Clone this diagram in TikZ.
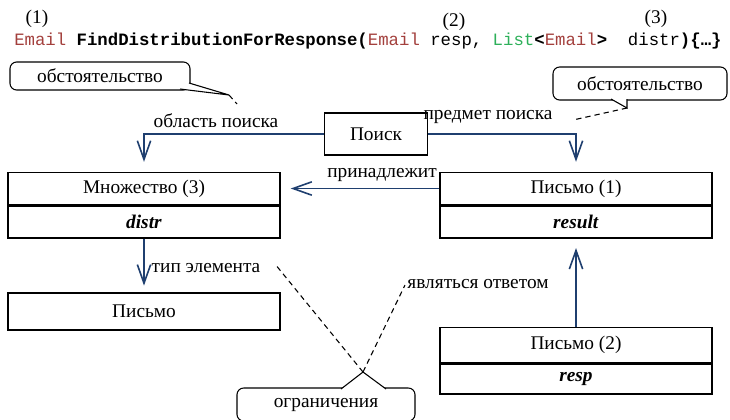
\documentclass[tikz,border=0pt]{standalone}
\usepackage{fontspec}
\setmainfont{Liberation Serif}
\setmonofont{Liberation Mono}
\usetikzlibrary{positioning,arrows.meta}
\definecolor{kwred}{HTML}{A3403D}
\definecolor{typegreen}{HTML}{2EB05A}
\definecolor{flowblue}{HTML}{1F3F6F}
\newcommand{\px}{0.75pt}

\begin{document}
\begin{tikzpicture}[x=0.75pt, y=-0.75pt,
   font=\fontsize{14.5pt}{16pt}\selectfont,
   box/.style={draw, line width=1.1pt, fill=white, inner sep=0pt},
   cell/.style={box, minimum width=272*\px, minimum height=32*\px},
   flow/.style={draw=flowblue, line width=1.2pt, -{Straight Barb[length=14pt, width=10pt]}},
   note/.style={draw, line width=0.8pt, fill=white, rounded corners=5pt},
   hint/.style={line width=0.8pt, dash pattern=on 4pt off 3pt},
   num/.style={inner sep=0pt}]
   \useasboundingbox (0,0) rectangle (730,419);

   % method signature
   \node[anchor=base west, inner sep=0pt] (sig) at (14,45) {\ttfamily\fontsize{13pt}{15pt}\selectfont
      \textcolor{kwred}{Email} \textbf{FindDistributionForResponse(}\textcolor{kwred}{Email} resp,
      \textcolor{typegreen}{List}\textbf{<}\textcolor{kwred}{Email}\textbf{>}\ \ distr\textbf{)\{…\}}};
   \node[num] (n1) at (37,19) {(1)};
   \node[num] (n2) at (454,22) {(2)};
   \node[num] (n3) at (656,19) {(3)};

   % frames
   \node[box, minimum width=103*\px, minimum height=42*\px] (search) at (376,134) {Поиск};
   \node[cell] (set) at (144,188.5) {Множество (3)};
   \node[cell, below=0pt of set] (setvar) {\textbf{\textit{distr}}};
   \node[cell] (res) at (576,188.5) {Письмо (1)};
   \node[cell, below=0pt of res] (resvar) {\textbf{\textit{result}}};
   \node[cell, minimum height=37*\px] (mail) at (144,311.5) {Письмо};
   \node[cell, minimum height=35*\px] (resp) at (576,345) {Письмо (2)};
   \node[cell, below=0pt of resp, minimum height=30*\px] (respvar) {\textbf{\textit{resp}}};

   % relations
   \draw[flow, shorten >=7.5pt] (search.west) -| (set.north);
   \draw[flow, shorten >=7.5pt] (search.east) -| (res.north);
   \draw[flow, shorten >=7.5pt] (res.west) -- (set.east);
   \draw[flow, shorten >=5pt] (setvar.south) -- (mail.north);
   \draw[flow, shorten >=7pt] (resp.north) -- (resvar.south);

   \node (lscope) at (216,121) {область поиска};
   \node (lsubj) at (488,117) {предмет поиска};
   \node (lbelong) at (382,175) {принадлежит};
   \node (ltype) at (206,268) {тип элемента};
   \node (lanswer) at (478,284) {являться ответом};

   % callouts
   \node[note, minimum width=180*\px, minimum height=28*\px] (note1) at (100,76) {обстоятельство};
   \coordinate (tip1) at (229,95);
   \fill[white] (180,89) -- (tip1) -- (189,83) -- (184,84) -- cycle;
   \draw[line width=0.8pt] (180,89) -- (tip1) -- (189,83);
   \coordinate (end1) at (237,104);
   \draw[hint] (tip1) -- (end1);

   \node[note, minimum width=174*\px, minimum height=33*\px] (note2) at (640,83.5) {обстоятельство};
   \coordinate (tip2) at (627,108);
   \fill[white] (611,99) -- (tip2) -- (627,99) -- cycle;
   \draw[line width=0.8pt] (611,99) -- (tip2) -- (627,99);
   \coordinate (end2) at (573,120);
   \draw[hint] (tip2) -- (end2);

   \node[note, minimum width=178*\px, minimum height=33*\px] (note3) at (326,404.5) {ограничения};
   \coordinate (tip3) at (363,372);
   \fill[white] (341,389) -- (tip3) -- (386,389) -- cycle;
   \draw[line width=0.8pt] (341,389) -- (tip3) -- (386,389);
   \coordinate (end3) at (275,264);
   \coordinate (end4) at (405,285);
   \draw[hint] (tip3) -- (end3);
   \draw[hint] (tip3) -- (end4);
\end{tikzpicture}
\end{document}
